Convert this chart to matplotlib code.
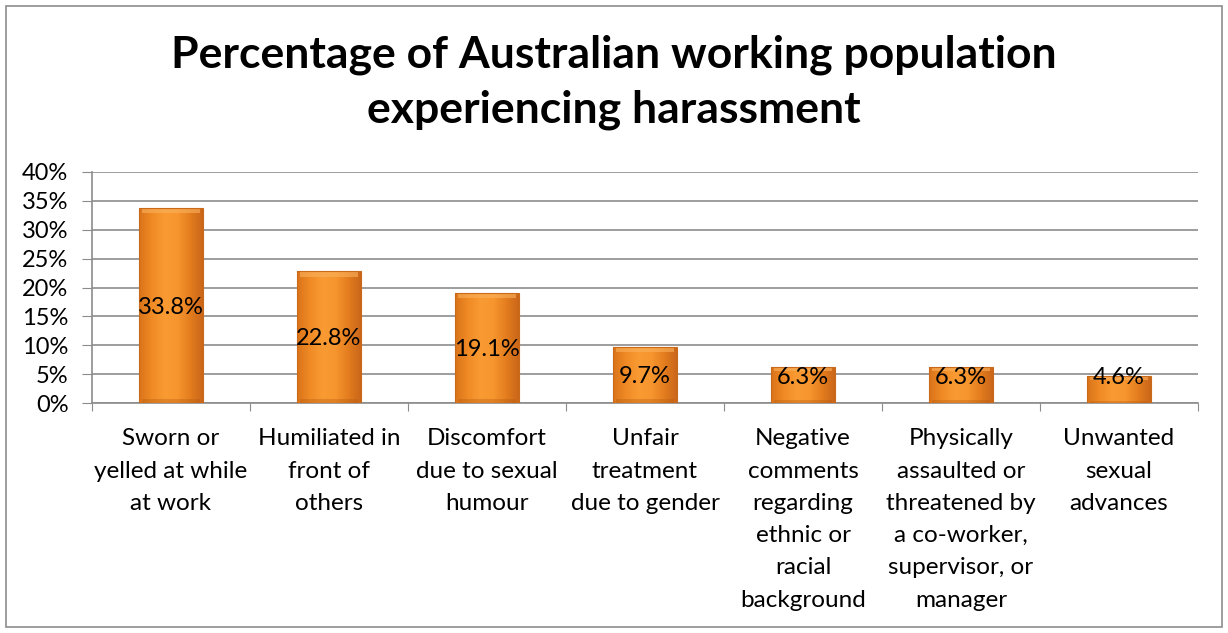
import matplotlib
matplotlib.use("Agg")
import matplotlib.pyplot as plt
import numpy as np
from matplotlib.patches import Rectangle
from matplotlib.colors import LinearSegmentedColormap

plt.rcParams['font.family'] = ['Lato', 'DejaVu Sans']

categories = [
    "Sworn or\nyelled at while\nat work",
    "Humiliated in\nfront of\nothers",
    "Discomfort\ndue to sexual\nhumour",
    "Unfair\ntreatment\ndue to gender",
    "Negative\ncomments\nregarding\nethnic or\nracial\nbackground",
    "Physically\nassaulted or\nthreatened by\na co-worker,\nsupervisor, or\nmanager",
    "Unwanted\nsexual\nadvances",
]
values = [33.8, 22.8, 19.1, 9.7, 6.3, 6.3, 4.6]
value_labels = ["33.8%", "22.8%", "19.1%", "9.7%", "6.3%", "6.3%", "4.6%"]
yticks = [0, 5, 10, 15, 20, 25, 30, 35, 40]
ytick_labels = ["0%", "5%", "10%", "15%", "20%", "25%", "30%", "35%", "40%"]

W, H = 1228, 633
fig = plt.figure(figsize=(W / 100, H / 100), dpi=100)
fig.patch.set_facecolor("white")

# outer chart frame
frame = Rectangle((6 / W, 6 / H), (W - 12) / W, (H - 12) / H, transform=fig.transFigure,
                  fill=False, edgecolor="#8c8c8c", linewidth=1.2)
fig.add_artist(frame)

fig.text(0.5, 1 - 55 / H, "Percentage of Australian working population",
         ha="center", va="center", fontsize=32, fontweight="bold", color="black")
fig.text(0.5, 1 - 110 / H, "experiencing harassment",
         ha="center", va="center", fontsize=32, fontweight="bold", color="black")

left, right, top, bottom = 92, 1198, 172, 403
ax = fig.add_axes([left / W, 1 - bottom / H, (right - left) / W, (bottom - top) / H])
ax.set_xlim(0, len(values))
ax.set_ylim(0, 40)

for sp in ["top", "right"]:
    ax.spines[sp].set_visible(False)
for sp in ["left", "bottom"]:
    ax.spines[sp].set_color("#8c8c8c")
    ax.spines[sp].set_linewidth(1.2)

ax.set_yticks(yticks)
ax.set_yticklabels(ytick_labels, fontsize=17)
ax.yaxis.grid(True, color="#8c8c8c", linewidth=1.2)
ax.set_axisbelow(True)
ax.tick_params(axis="y", length=7, color="#8c8c8c", pad=10)

# category separators as ticks, labels at centres
ax.set_xticks(np.arange(len(values) + 1))
ax.set_xticklabels([""] * (len(values) + 1))
ax.tick_params(axis="x", length=6, color="#8c8c8c", direction="out")
for i, c in enumerate(categories):
    ax.text(i + 0.5, -4.4, c, ha="center", va="top", fontsize=17.5, linespacing=1.66,
            transform=ax.transData)

# orange bevelled bars
cmap = LinearSegmentedColormap.from_list(
    "orange", ["#d8731a", "#f08a25", "#f99a33", "#f7962e", "#e47d1e", "#c9661a"])
bar_w = 0.4
x = np.arange(len(values)) + 0.5
bars = ax.bar(x, values, width=bar_w, color="#f39028", edgecolor="none", zorder=3)
grad = np.linspace(0, 1, 256).reshape(1, -1)
for b, v in zip(bars, values):
    x0 = b.get_x()
    # drop shadow
    sh = Rectangle((x0 + 0.01, -0.3), bar_w, v, facecolor="#000000", alpha=0.18,
                   edgecolor="none", zorder=2)
    ax.add_patch(sh)
    im = ax.imshow(grad, cmap=cmap, aspect="auto", extent=(x0, x0 + bar_w, 0, v),
                   zorder=3.1, interpolation="bicubic")
    im.set_clip_path(b)
    bev = min(0.9, v * 0.12)
    ax.add_patch(Rectangle((x0 + 0.015, v - bev), bar_w - 0.03, bev,
                           facecolor="#fbb25e", alpha=0.6, edgecolor="none", zorder=3.2))
    ax.add_patch(Rectangle((x0 + 0.015, 0), bar_w - 0.03, bev * 0.7,
                           facecolor="#b35a12", alpha=0.35, edgecolor="none", zorder=3.2))
    ax.add_patch(Rectangle((x0, 0), bar_w, v, facecolor="none",
                           edgecolor="#c86a1a", linewidth=0.8, zorder=3.3))

for xi, v, lab in zip(x, values, value_labels):
    ypos = max(v / 2 - 0.3, 4.5)
    ax.text(xi, ypos, lab, ha="center", va="center", fontsize=17, color="black", zorder=5)

ax.set_xlim(0, len(values))
ax.set_ylim(0, 40)
fig.savefig("out.png", dpi=100, facecolor="white")
